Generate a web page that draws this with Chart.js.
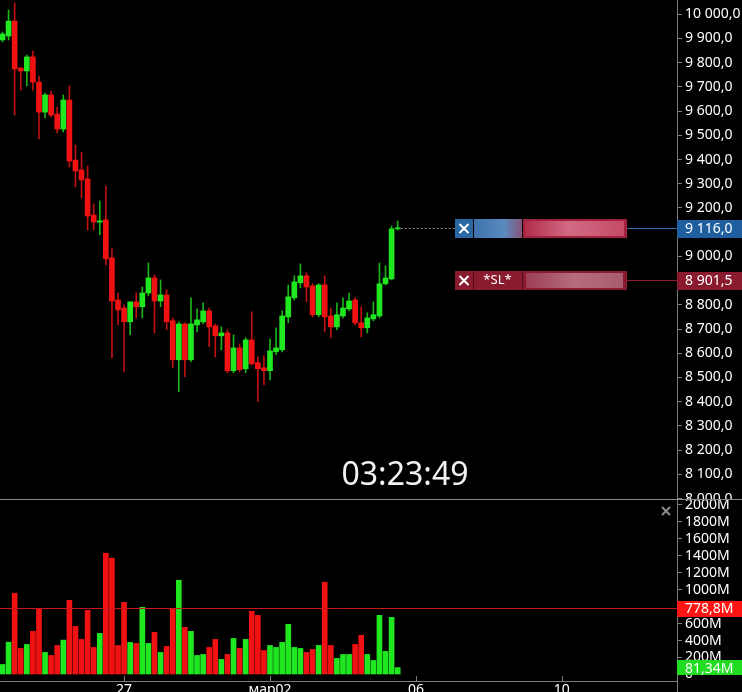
<!DOCTYPE html>
<html lang="ru">
<head>
<meta charset="utf-8">
<title>BTC 4h</title>
<script src="https://cdn.jsdelivr.net/npm/chart.js@4.4.1/dist/chart.umd.min.js"></script>
<style>
  html, body { margin: 0; padding: 0; background: #000; overflow: hidden; }
  #wrap { position: relative; width: 742px; height: 692px; overflow: hidden; background: #000; }
  canvas { position: absolute; left: 0; }
  #priceChart { top: 0; }
  #volumeChart { top: 499px; }
  #timer {
    position: absolute; left: 405px; top: 472px; transform: translate(-50%, -50%);
    color: #f2f2f2; font: 32px "Noto Sans", sans-serif; white-space: nowrap;
  }
</style>
</head>
<body>
<div id="wrap">
  <canvas id="priceChart" width="742" height="510"></canvas>
  <canvas id="volumeChart" width="742" height="215"></canvas>
  <div id="timer">03:23:49</div>
</div>
<script>
// свечи (4ч), значения
const opens  = [9894, 9910, 9972, 9778, 9766, 9824, 9720, 9596, 9667, 9588, 9526, 9646, 9398, 9357, 9320, 9171, 9142, 9151, 8994, 8820, 8787, 8730, 8812, 8792, 8849, 8911, 8816, 8841, 8734, 8573, 8721, 8573, 8717, 8730, 8775, 8713, 8672, 8684, 8528, 8622, 8536, 8655, 8561, 8540, 8528, 8606, 8614, 8750, 8829, 8891, 8920, 8878, 8759, 8882, 8754, 8709, 8754, 8783, 8820, 8726, 8705, 8742, 8754, 8887, 8907, 9114];
const highs  = [9927, 10018, 10047, 9780, 9832, 9848, 9745, 9675, 9683, 9617, 9667, 9704, 9460, 9431, 9374, 9217, 9229, 9291, 9031, 8849, 8800, 8812, 8849, 8874, 8973, 8924, 8903, 8862, 8746, 8730, 8726, 8829, 8783, 8808, 8787, 8721, 8709, 8697, 8676, 8639, 8664, 8771, 8585, 8589, 8660, 8705, 8775, 8882, 8920, 8969, 8932, 8887, 8887, 8920, 8787, 8808, 8829, 8849, 8829, 8792, 8767, 8812, 8973, 8961, 9126, 9146];
const lows   = [9886, 9894, 9584, 9687, 9704, 9687, 9485, 9572, 9576, 9510, 9514, 9369, 9287, 9241, 9109, 9109, 9089, 8965, 8581, 8717, 8523, 8676, 8746, 8746, 8837, 8684, 8792, 8697, 8540, 8441, 8503, 8565, 8688, 8721, 8627, 8585, 8614, 8519, 8519, 8523, 8519, 8552, 8400, 8470, 8490, 8594, 8606, 8726, 8820, 8870, 8812, 8750, 8750, 8688, 8664, 8697, 8746, 8775, 8717, 8668, 8684, 8734, 8746, 8882, 8903, 9109];
const closes = [9919, 9972, 9774, 9766, 9824, 9720, 9596, 9667, 9584, 9526, 9646, 9394, 9353, 9316, 9167, 9142, 9147, 8990, 8816, 8779, 8730, 8812, 8792, 8849, 8911, 8816, 8841, 8730, 8573, 8721, 8573, 8721, 8738, 8775, 8709, 8672, 8684, 8528, 8622, 8532, 8655, 8556, 8536, 8528, 8610, 8622, 8754, 8833, 8895, 8920, 8874, 8759, 8882, 8750, 8709, 8759, 8787, 8816, 8726, 8705, 8746, 8759, 8887, 8911, 9114, 9116];
// объём, млн
const volumes = [118, 381, 957, 307, 354, 508, 776, 260, 224, 342, 405, 874, 567, 413, 756, 319, 484, 1429, 1370, 342, 850, 378, 366, 791, 366, 496, 260, 331, 768, 1110, 555, 508, 224, 236, 319, 413, 177, 236, 425, 307, 413, 744, 697, 283, 342, 319, 378, 591, 319, 307, 260, 295, 342, 1087, 342, 189, 236, 236, 354, 461, 236, 165, 697, 272, 673, 81.34];

// подписи осей
const priceTicks = [8000, 8100, 8200, 8300, 8400, 8500, 8600, 8700, 8800, 8900, 9000, 9100, 9200, 9300, 9400, 9500, 9600, 9700, 9800, 9900, 10000];
const volumeTicks = [0, 200, 400, 600, 800, 1000, 1200, 1400, 1600, 1800, 2000];
const dayTicks = [20, 44, 68, 92];
const dayLabels = ['27', 'мар02', '06', '10'];

// ордера и средний объём
const entryPrice = 9116;
const stopPrice = 8901.5;
const stopText = '*SL*';
const avgVolume = 778.8;

// стиль
const UP = '#20e820';
const DOWN = '#f01212';
const UP_WICK = '#18b418';
const DOWN_WICK = '#c01010';
const AXIS = '#7c7c7c';
const FONT = '"Noto Sans", sans-serif';
const X_MIN = -0.41;
const X_MAX = 110.94;
const BOX_L = 455, BOX_X = 473, BOX_M = 522, BOX_R = 627, BOX_H = 19;

const idx = opens.map((_, i) => i);
const isUp = i => closes[i] >= opens[i];

function fmtPrice(v) {
  const [ip, dp] = Number(v).toFixed(1).split('.');
  return ip.replace(/\B(?=(\d{3})+(?!\d))/g, ' ') + ',' + dp;
}

function fmtVol(v) {
  return String(v).replace('.', ',') + 'M';
}

// общая ось времени
function timeAxis(show) {
  return {
    type: 'linear', min: X_MIN, max: X_MAX, display: show, offset: false,
    grid: { display: false, drawTicks: false, tickLength: 0 },
    border: { display: true, color: AXIS },
    afterBuildTicks: s => { s.ticks = dayTicks.map(v => ({ value: v })); },
    ticks: {
      autoSkip: false, maxRotation: 0, padding: 1, color: '#fff',
      font: { family: FONT, size: 14 },
      callback: v => dayLabels[dayTicks.indexOf(v)]
    },
    afterFit: s => {
      if (show) s.height = 33;
      s.paddingLeft = 0;
      s.paddingRight = 0;
    }
  };
}

// правая шкала
function rightAxis(min, max, list, fmt) {
  return {
    position: 'right', min, max, beginAtZero: false,
    grid: { drawOnChartArea: false, drawTicks: true, tickLength: 5, color: AXIS },
    border: { display: true, color: AXIS },
    afterBuildTicks: s => { s.ticks = list.map(v => ({ value: v })); },
    ticks: {
      autoSkip: false, padding: 3, color: '#fff',
      font: { family: FONT, size: 14 }, callback: fmt
    },
    afterFit: s => {
      s.width = 65;
      s.paddingTop = 0;
      s.paddingBottom = 0;
    }
  };
}

function hLine(ctx, x1, x2, y) {
  ctx.beginPath();
  ctx.moveTo(x1, y);
  ctx.lineTo(x2, y);
  ctx.stroke();
}

function vLine(ctx, x, y1, y2) {
  ctx.beginPath();
  ctx.moveTo(x, y1);
  ctx.lineTo(x, y2);
  ctx.stroke();
}

function cross(ctx, cx, cy, color, r) {
  ctx.strokeStyle = color;
  ctx.lineWidth = 2;
  ctx.beginPath();
  ctx.moveTo(cx - r, cy - r); ctx.lineTo(cx + r, cy + r);
  ctx.moveTo(cx + r, cy - r); ctx.lineTo(cx - r, cy + r);
  ctx.stroke();
  ctx.lineWidth = 1;
}

// плашка цены на оси
function axisTag(ctx, x0, cy, h, color, text) {
  ctx.fillStyle = color;
  ctx.fillRect(x0, Math.round(cy - h / 2), 742 - x0, h);
  ctx.fillStyle = '#fff';
  ctx.font = '14px ' + FONT;
  ctx.textAlign = 'left';
  ctx.textBaseline = 'middle';
  ctx.fillText(text, x0 + 8, cy + 1);
}

function drawEntryBox(ctx, cy) {
  const top = Math.round(cy - BOX_H / 2);
  ctx.fillStyle = '#2a68a4';
  ctx.fillRect(BOX_L, top, BOX_X - BOX_L, BOX_H);
  cross(ctx, (BOX_L + BOX_X) / 2, cy, '#fff', 4.5);
  let g = ctx.createLinearGradient(BOX_X, 0, BOX_M + 8, 0);
  g.addColorStop(0, '#3c72ad');
  g.addColorStop(0.55, '#5a8bbf');
  g.addColorStop(1, '#9a3a5a');
  ctx.fillStyle = g;
  ctx.fillRect(BOX_X + 1, top, BOX_M - BOX_X - 1, BOX_H);
  ctx.fillStyle = '#a3213e';
  ctx.fillRect(BOX_M + 1, top, BOX_R - BOX_M - 1, BOX_H);
  g = ctx.createLinearGradient(BOX_M, 0, BOX_R, 0);
  g.addColorStop(0, '#b02a48');
  g.addColorStop(0.45, '#d26a84');
  g.addColorStop(1, '#c44a66');
  ctx.fillStyle = g;
  ctx.fillRect(BOX_M + 3, top + 2, BOX_R - BOX_M - 6, BOX_H - 4);
}

function drawStopBox(ctx, cy) {
  const top = Math.round(cy - BOX_H / 2);
  ctx.fillStyle = '#8a1b2e';
  ctx.fillRect(BOX_L, top, BOX_R - BOX_L, BOX_H);
  ctx.strokeStyle = '#50101a';
  vLine(ctx, BOX_X + 0.5, top, top + BOX_H);
  vLine(ctx, BOX_M + 0.5, top, top + BOX_H);
  cross(ctx, (BOX_L + BOX_X) / 2, cy, '#fff', 4.5);
  ctx.fillStyle = '#fff';
  ctx.font = '13px ' + FONT;
  ctx.textAlign = 'center';
  ctx.textBaseline = 'middle';
  ctx.fillText(stopText, (BOX_X + BOX_M) / 2, cy);
  const g = ctx.createLinearGradient(BOX_M, 0, BOX_R, 0);
  g.addColorStop(0, '#9a3a50');
  g.addColorStop(0.5, '#b66e7e');
  g.addColorStop(1, '#a45a6a');
  ctx.fillStyle = g;
  ctx.fillRect(BOX_M + 4, top + 2, BOX_R - BOX_M - 8, BOX_H - 4);
}

// ордера поверх ценовой панели
const priceOverlay = {
  id: 'priceOverlay',
  afterDraw(chart) {
    const { ctx, chartArea, scales } = chart;
    const right = chartArea.right;
    const ey = Math.round(scales.y.getPixelForValue(entryPrice)) + 0.5;
    const sy = Math.round(scales.y.getPixelForValue(stopPrice)) + 0.5;
    const lastX = scales.x.getPixelForValue(closes.length - 1);
    ctx.save();
    ctx.lineWidth = 1;
    ctx.strokeStyle = '#8a8a8a';
    ctx.setLineDash([2, 2]);
    hLine(ctx, lastX + 3, BOX_L, ey);
    ctx.setLineDash([]);
    ctx.strokeStyle = '#2d6db2';
    hLine(ctx, BOX_R, right, ey);
    ctx.strokeStyle = '#8e1c30';
    hLine(ctx, BOX_R, right, sy);
    drawEntryBox(ctx, ey);
    drawStopBox(ctx, sy);
    axisTag(ctx, right, ey, 18, '#1f5f9f', fmtPrice(entryPrice));
    axisTag(ctx, right, sy, 18, '#8a1b2f', fmtPrice(stopPrice));
    ctx.restore();
  }
};

// панель объёма: фон, линии, плашки
const volumeOverlay = {
  id: 'volumeOverlay',
  beforeDraw(chart) {
    chart.ctx.fillStyle = '#000';
    chart.ctx.fillRect(0, 0, chart.width, chart.height);
  },
  afterDraw(chart) {
    const { ctx, chartArea, scales } = chart;
    const right = chartArea.right;
    ctx.save();
    ctx.lineWidth = 1;
    ctx.strokeStyle = '#8a8a8a';
    hLine(ctx, 0, chart.width, 0.5);
    ctx.strokeStyle = AXIS;
    vLine(ctx, right + 0.5, chartArea.bottom, chart.height);
    dayTicks.forEach(v => {
      const px = Math.round(scales.x.getPixelForValue(v)) + 0.5;
      vLine(ctx, px, chartArea.bottom - 5, chartArea.bottom);
    });
    const ay = Math.round(scales.y.getPixelForValue(avgVolume)) + 0.5;
    ctx.strokeStyle = '#c8161c';
    hLine(ctx, 0, right, ay);
    axisTag(ctx, right, ay, 16, '#ff1414', fmtVol(avgVolume));
    const lastVol = volumes[volumes.length - 1];
    axisTag(ctx, right, scales.y.getPixelForValue(lastVol), 15, '#22dc22', fmtVol(lastVol));
    cross(ctx, 666, 12, '#8c8c8c', 4);
    ctx.restore();
  }
};

const baseOptions = {
  responsive: false,
  animation: false,
  devicePixelRatio: 1,
  layout: { padding: 0 },
  plugins: { legend: { display: false }, tooltip: { enabled: false } }
};

// цена
new Chart(document.getElementById('priceChart'), {
  type: 'bar',
  data: {
    datasets: [
      {
        data: idx.map(i => ({ x: i, y: [opens[i], closes[i]] })),
        backgroundColor: idx.map(i => isUp(i) ? UP : DOWN),
        barThickness: 5, minBarLength: 1, grouped: false, borderWidth: 0
      },
      {
        data: idx.map(i => ({ x: i, y: [lows[i], highs[i]] })),
        backgroundColor: idx.map(i => isUp(i) ? UP_WICK : DOWN_WICK),
        barThickness: 1, grouped: false, borderWidth: 0
      }
    ]
  },
  options: {
    ...baseOptions,
    scales: { x: timeAxis(false), y: rightAxis(7952.6, 10059.06, priceTicks, fmtPrice) }
  },
  plugins: [priceOverlay]
});

// объём
new Chart(document.getElementById('volumeChart'), {
  type: 'bar',
  data: {
    datasets: [{
      data: idx.map(i => ({ x: i, y: volumes[i] })),
      backgroundColor: idx.map(i => isUp(i) ? UP : DOWN),
      barThickness: 5, borderWidth: 0
    }]
  },
  options: {
    ...baseOptions,
    scales: { x: timeAxis(true), y: rightAxis(-76.6, 2067, volumeTicks, v => v === 0 ? '0' : v + 'M') }
  },
  plugins: [volumeOverlay]
});
</script>
</body>
</html>
